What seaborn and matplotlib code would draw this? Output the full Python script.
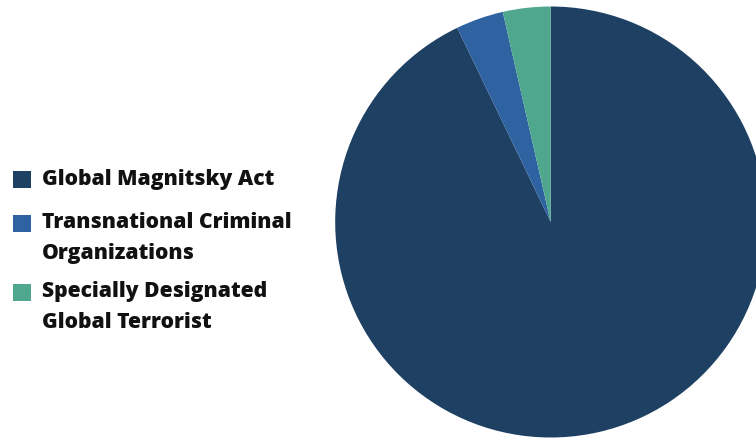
import matplotlib
matplotlib.use("Agg")
import matplotlib.pyplot as plt
import seaborn as sns
from matplotlib.patches import Rectangle

categories = ["Global Magnitsky Act", "Transnational Criminal\nOrganizations",
              "Specially Designated\nGlobal Terrorist"]
values = [26, 1, 1]
colors = ["#1d4063", "#2e62a0", "#4fa88e"]

sns.set_theme(style="white")
plt.rcParams['font.family'] = ['Open Sans', 'DejaVu Sans']

W, H = 756, 438
fig = plt.figure(figsize=(W / 100, H / 100), dpi=100)
fig.patch.set_facecolor("white")

cx, cy, r = 550.7, 222.0, 215.5
ax = fig.add_axes([(cx - r) / W, (H - cy - r) / H, 2 * r / W, 2 * r / H])
ax.pie(values, colors=colors, startangle=90, counterclock=False,
       radius=1.0, wedgeprops=dict(linewidth=0))
ax.set_xlim(-1, 1)
ax.set_ylim(-1, 1)
ax.set_aspect("auto")
ax.axis("off")

# legend, drawn by hand so that the markers align with the first line
first_line_y = [179, 223, 292]
for lab, col, y in zip(categories, colors, first_line_y):
    fig.patches.append(Rectangle((13 / W, (H - y - 8.5) / H), 18 / W, 17 / H,
                                 transform=fig.transFigure, facecolor=col,
                                 edgecolor="none"))
    for k, line in enumerate(lab.split("\n")):
        fig.text(42 / W, (H - (y + 30 * k)) / H, line, ha="left", va="center",
                 fontsize=15.2, fontweight="heavy", color="#111111")

fig.savefig("out.png", dpi=100)
